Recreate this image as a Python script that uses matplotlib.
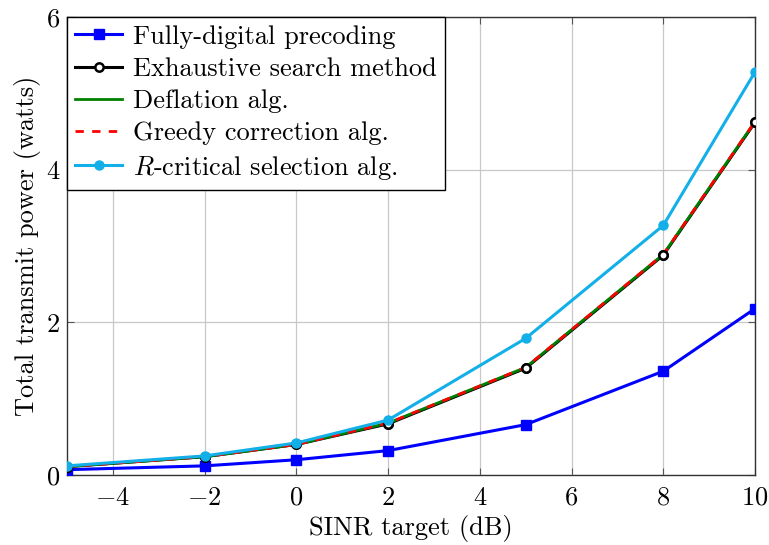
import matplotlib
matplotlib.use("Agg")
import matplotlib.pyplot as plt

plt.rcParams['font.family'] = ['cmr10', 'DejaVu Serif']
plt.rcParams['mathtext.fontset'] = 'cm'
plt.rcParams['axes.formatter.use_mathtext'] = True
plt.rcParams['font.size'] = 19

sinr_db = [-5, -2, 0, 2, 5, 8, 10]
fully_digital = [0.07, 0.12, 0.20, 0.32, 0.66, 1.36, 2.18]
exhaustive = [0.11, 0.24, 0.40, 0.67, 1.40, 2.88, 4.62]
deflation = [0.11, 0.24, 0.40, 0.68, 1.41, 2.89, 4.63]
greedy = [0.11, 0.24, 0.40, 0.68, 1.41, 2.89, 4.63]
r_critical = [0.12, 0.25, 0.42, 0.72, 1.79, 3.27, 5.28]

fig = plt.figure(figsize=(7.69, 5.45), dpi=100)
ax = fig.add_axes([0.0871, 0.1284, 0.8947, 0.8404])

ax.plot(sinr_db, fully_digital, color='#0000ff', lw=2.2, marker='s', ms=6.5,
        label='Fully-digital precoding', zorder=3)
ax.plot(sinr_db, exhaustive, color='black', lw=2.2, marker='o', ms=6,
        mfc='white', mec='black', mew=1.8, label='Exhaustive search method', zorder=3)
ax.plot(sinr_db, deflation, color='#008000', lw=2.0, label='Deflation alg.', zorder=4)
ax.plot(sinr_db, greedy, color='#ff0000', lw=2.0, ls=(0, (3, 3)),
        label='Greedy correction alg.', zorder=5)
# open circles sit above the overlapping algorithm curves
ax.plot(sinr_db, exhaustive, ls='none', marker='o', ms=6, mfc='white',
        mec='black', mew=1.8, zorder=6)
ax.plot(sinr_db, r_critical, color='#12afe8', lw=2.2, marker='o', ms=6.5,
        label='$R$-critical selection alg.', zorder=7)

ax.set_xlim(-5, 10)
ax.set_ylim(0, 6)
ax.set_xticks([-4, -2, 0, 2, 4, 6, 8, 10])
ax.set_yticks([0, 2, 4, 6])
ax.grid(True, color='#c8c8c8', lw=0.9)
ax.set_axisbelow(True)
ax.tick_params(direction='in', top=True, right=True, length=5, width=0.8,
               color='#555555')
ax.tick_params(axis='x', pad=8)
ax.tick_params(axis='y', pad=5)
for s in ax.spines.values():
    s.set_color('#333333')
    s.set_linewidth(1.0)

ax.set_xlabel('SINR target (dB)', labelpad=4)
ax.set_ylabel('Total transmit power (watts)', labelpad=3)

leg = ax.legend(loc='upper left', frameon=True, fancybox=False, framealpha=1,
                edgecolor='black', borderaxespad=0, handlelength=1.8,
                labelspacing=0.32, borderpad=0.3, handletextpad=0.4)
leg.get_frame().set_linewidth(1.0)

fig.savefig('out.png', dpi=100)
